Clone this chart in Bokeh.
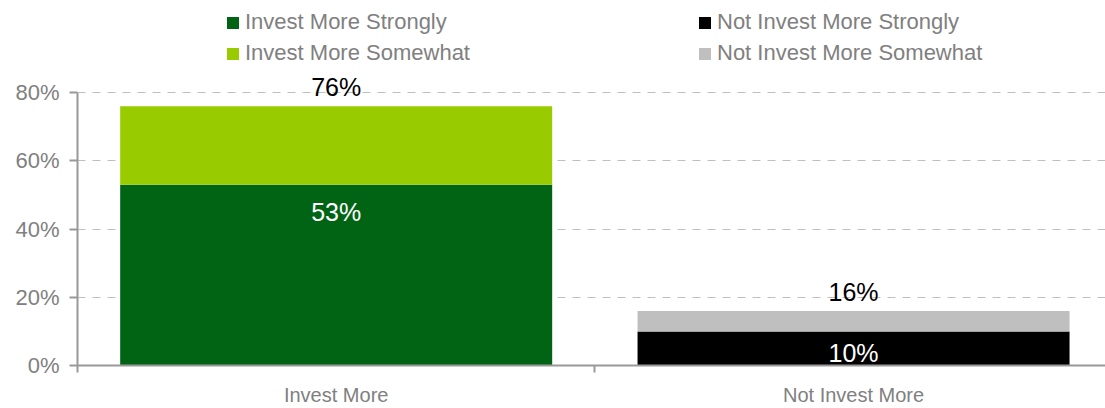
from bokeh.plotting import figure
from bokeh.models import (ColumnDataSource, FixedTicker, PrintfTickFormatter, Range1d,
                          Legend, LegendItem)
from bokeh.embed import file_html
from bokeh.resources import INLINE
from bokeh.core.properties import value

# ---- data ----
categories = ["Invest More", "Not Invest More"]
invest_strongly = [53, 0]
invest_somewhat = [23, 0]
not_invest_strongly = [0, 10]
not_invest_somewhat = [0, 6]
series_names = ["Invest More Strongly", "Invest More Somewhat",
                "Not Invest More Strongly", "Not Invest More Somewhat"]
y_ticks = [0, 20, 40, 60, 80]

colors = ["#006414", "#99CC00", "#000000", "#BFBFBF"]
FONT = "Liberation Sans"
GREY = "#808080"

xpos = [i + 0.5 for i in range(len(categories))]
keys = ["s1", "s2", "s3", "s4"]
src = ColumnDataSource(dict(x=xpos, s1=invest_strongly, s2=invest_somewhat,
                            s3=not_invest_strongly, s4=not_invest_somewhat))

p = figure(width=1105, height=408, output_backend="svg", toolbar_location=None,
           x_range=Range1d(0, 1.987), y_range=Range1d(0, 107),
           min_border_left=77, min_border_right=0, min_border_top=0, min_border_bottom=43)
p.outline_line_color = None
p.background_fill_color = "white"

renderers = p.vbar_stack(keys, x="x", width=0.835, source=src, color=colors, line_color=None)

strong = [a + b for a, b in zip(invest_strongly, not_invest_strongly)]
totals = [a + b + c + d for a, b, c, d in zip(invest_strongly, invest_somewhat,
                                               not_invest_strongly, not_invest_somewhat)]
inner_y = [max(v - 8, v * 0.37) for v in strong]
top_y = [t + 5.5 for t in totals]

p.text(x=xpos, y=top_y, text=[f"{t}%" for t in totals], text_align="center",
       text_baseline="middle", text_font=value(FONT), text_font_size="25px", text_color="black")
p.text(x=xpos, y=inner_y, text=[f"{v}%" for v in strong], text_align="center",
       text_baseline="middle", text_font=value(FONT), text_font_size="25px", text_color="white")

# axes
xa = p.xaxis[0]
xa.ticker = FixedTicker(ticks=xpos, minor_ticks=[0, 1, 2])
xa.major_label_overrides = {x: c for x, c in zip(xpos, categories)}
xa.major_tick_line_color = None
xa.major_tick_in = 0
xa.major_tick_out = 0
xa.minor_tick_in = 0
xa.minor_tick_out = 7
xa.minor_tick_line_color = "#999999"
xa.minor_tick_line_width = 2
xa.axis_line_color = "#999999"
xa.axis_line_width = 2
xa.major_label_text_font = FONT
xa.major_label_text_font_size = "20px"
xa.major_label_text_color = GREY
xa.major_label_standoff = 11

ya = p.yaxis[0]
ya.ticker = FixedTicker(ticks=y_ticks, minor_ticks=[])
ya.formatter = PrintfTickFormatter(format="%d%%")
ya.bounds = (0, 80)
ya.major_tick_in = 0
ya.major_tick_out = 8
ya.major_tick_line_color = "#999999"
ya.major_tick_line_width = 2
ya.axis_line_color = "#999999"
ya.axis_line_width = 2
ya.major_label_text_font = FONT
ya.major_label_text_font_size = "22px"
ya.major_label_text_color = GREY
ya.major_label_standoff = 10

p.xgrid.grid_line_color = None
p.ygrid.ticker = FixedTicker(ticks=y_ticks[1:])
p.ygrid.grid_line_color = "#BFBFBF"
p.ygrid.grid_line_dash = "8 7"
p.ygrid.grid_line_width = 1

def make_legend(idx, loc):
    lg = Legend(items=[LegendItem(label=series_names[i], renderers=[renderers[i]]) for i in idx],
                location=loc, orientation="vertical")
    lg.label_text_font = FONT
    lg.label_text_font_size = "22px"
    lg.label_text_color = GREY
    lg.glyph_width = 15
    lg.glyph_height = 15
    lg.label_standoff = 5
    lg.padding = 0
    lg.margin = 0
    lg.spacing = 5
    lg.border_line_color = None
    lg.background_fill_alpha = 0
    return lg

p.add_layout(make_legend([0, 1], (148, 299)))
p.add_layout(make_legend([2, 3], (620, 299)))

open("out.html", "w").write(file_html(p, INLINE))
